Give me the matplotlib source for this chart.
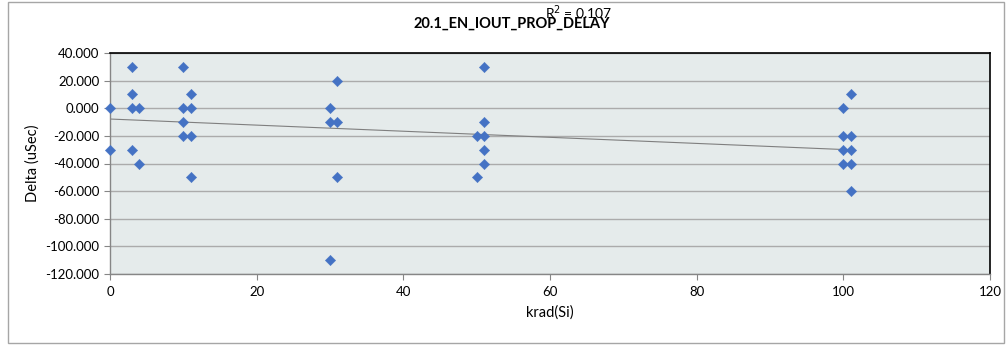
import numpy as np
import matplotlib
matplotlib.use("Agg")
import matplotlib.pyplot as plt
from matplotlib.patches import Rectangle
from matplotlib.ticker import FormatStrFormatter

plt.rcParams['font.family'] = ['Lato', 'DejaVu Sans']

title = "20.1_EN_IOUT_PROP_DELAY"
x_label = "krad(Si)"
y_label = "Delta (uSec)"
r2_label = "R$^2$ = 0.107"

krad = [0, 0,
        3, 3, 3, 3,
        4, 4,
        10, 10, 10, 10,
        11, 11, 11, 11,
        30, 30, 30,
        31, 31, 31,
        50, 50,
        51, 51, 51, 51, 51,
        100, 100, 100, 100,
        101, 101, 101, 101, 101]
delta = [0, -30,
         30, 10, 0, -30,
         0, -40,
         30, 0, -10, -20,
         10, 0, -20, -50,
         0, -10, -110,
         20, -10, -50,
         -20, -50,
         30, -10, -20, -30, -40,
         0, -20, -30, -40,
         10, -20, -30, -40, -60]

# linear trendline
trend_x = [0, 101]
trend_y = [-7.8, -30.1]

W, H = 1006, 346
fig = plt.figure(figsize=(W / 100, H / 100), dpi=100)
fig.patch.set_facecolor('white')

# outer chart border
fig.add_artist(Rectangle((8 / W, 1 - 343 / H), (1004 - 8) / W, (343 - 2) / H,
                         transform=fig.transFigure, fill=False,
                         edgecolor='#A6A6A6', linewidth=1.0))

left, right, top, bottom = 110, 990, 53, 274
ax = fig.add_axes([left / W, 1 - bottom / H, (right - left) / W, (bottom - top) / H])
ax.set_facecolor('#E5EBEB')
ax.set_xlim(0, 120)
ax.set_ylim(-120, 40)
ax.set_xticks(np.arange(0, 121, 20))
ax.set_yticks(np.arange(-120, 41, 20))
ax.yaxis.set_major_formatter(FormatStrFormatter('%.3f'))
ax.grid(axis='y', color='#ABABAB', linewidth=1.0)
ax.set_axisbelow(True)
for s in ['top', 'right']:
    ax.spines[s].set_color('black')
    ax.spines[s].set_linewidth(1.2)
for s in ['left', 'bottom']:
    ax.spines[s].set_color('#868686')
    ax.spines[s].set_linewidth(1.0)
ax.tick_params(axis='both', direction='out', length=4, width=0.8, color='#868686',
               labelsize=9.5, labelcolor='black')
ax.tick_params(axis='x', pad=5)

ax.plot(trend_x, trend_y, color='#7F7F7F', linewidth=0.8, zorder=2)
ax.scatter(krad, delta, marker='D', s=28, color='#4472C4', edgecolors='#4472C4',
           linewidths=0.3, zorder=3, clip_on=False)

ax.set_xlabel(x_label, fontsize=10.5, labelpad=5)
ax.set_ylabel(y_label, fontsize=10.5, labelpad=4)

fig.text(512 / W, 1 - 24 / H, title, ha='center', va='center',
         fontsize=10.5, fontweight='bold')
fig.text(579 / W, 1 - 13 / H, r2_label, ha='center', va='center',
         fontsize=10)

fig.savefig("out.png", dpi=100, facecolor='white')
